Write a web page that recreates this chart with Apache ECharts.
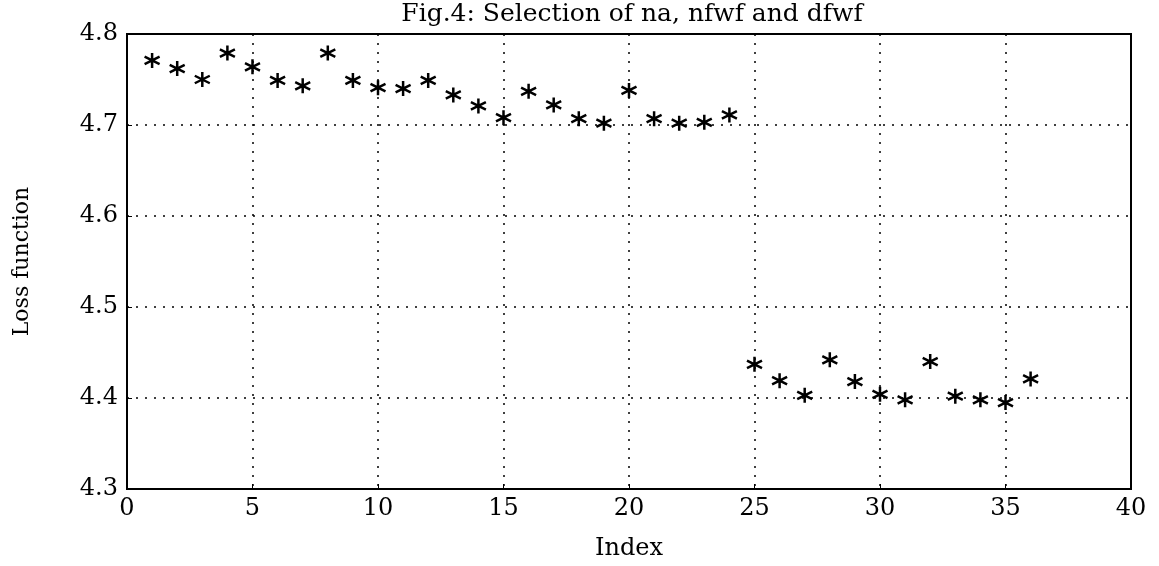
<!DOCTYPE html>
<html>
<head>
<meta charset="utf-8">
<script src="https://cdn.jsdelivr.net/npm/echarts@6/dist/echarts.min.js"></script>
<style>
  html, body { margin: 0; padding: 0; background: #fff; }
  #fig4 { width: 1159px; height: 566px; }
</style>
</head>
<body>
<div id="fig4"></div>
<script>
// index of the model structure
var index = [1, 2, 3, 4, 5, 6, 7, 8, 9, 10, 11, 12, 13, 14, 15, 16, 17, 18,
  19, 20, 21, 22, 23, 24, 25, 26, 27, 28, 29, 30, 31, 32, 33, 34, 35, 36];
// loss function
var loss = [4.771, 4.762, 4.750, 4.779, 4.764, 4.749, 4.743, 4.779, 4.749, 4.741,
  4.740, 4.749, 4.733, 4.721, 4.708, 4.737, 4.722, 4.707, 4.702, 4.738,
  4.707, 4.702, 4.703, 4.711, 4.437, 4.419, 4.403, 4.442, 4.418, 4.404,
  4.398, 4.440, 4.402, 4.398, 4.395, 4.421];

var xTicks = [0, 5, 10, 15, 20, 25, 30, 35, 40];
var yTicks = [4.3, 4.4, 4.5, 4.6, 4.7, 4.8];

var points = [];
for (var i = 0; i < index.length; i++) {
  points.push([index[i], loss[i]]);
}

var font = "DejaVu Serif";
var chartDom = document.getElementById("fig4");
var myChart = echarts.init(chartDom);

// asterisk marker (vertical + diagonals)
var star = "path://M0,-10L0,10M-8.66,-5L8.66,5M-8.66,5L8.66,-5";

var dotted = { color: "#000", width: 1.5, type: [2, 7] };

var option = {
  animation: false,
  backgroundColor: "#fff",
  title: {
    text: "Fig.4: Selection of na, nfwf and dfwf",
    left: 627,
    textAlign: "center",
    top: -3,
    textStyle: { fontFamily: font, fontSize: 25, fontWeight: "normal", color: "#000" },
  },
  grid: {
    left: 127,
    right: 28,
    top: 34,
    bottom: 77,
    show: true,
    borderColor: "#000",
    borderWidth: 2,
  },
  xAxis: {
    type: "value",
    min: xTicks[0],
    max: xTicks[xTicks.length - 1],
    interval: 5,
    name: "Index",
    nameLocation: "middle",
    nameGap: 48,
    nameTextStyle: { fontFamily: font, fontSize: 24, color: "#000" },
    axisLine: { lineStyle: { color: "#000", width: 2 } },
    axisTick: { inside: true, length: 5, lineStyle: { color: "#000" } },
    axisLabel: { fontFamily: font, fontSize: 24, color: "#000", margin: 8 },
    splitLine: { show: true, lineStyle: dotted },
  },
  yAxis: {
    type: "value",
    min: yTicks[0],
    max: yTicks[yTicks.length - 1],
    interval: 0.1,
    name: "Loss function",
    nameLocation: "middle",
    nameGap: 94,
    nameTextStyle: { fontFamily: font, fontSize: 22, color: "#000" },
    axisLine: { show: true, lineStyle: { color: "#000", width: 2 } },
    axisTick: { show: true, inside: true, length: 5, lineStyle: { color: "#000" } },
    axisLabel: {
      fontFamily: font,
      fontSize: 24,
      color: "#000",
      margin: 9,
      formatter: function (v) {
        return v.toFixed(1);
      },
    },
    splitLine: { show: true, lineStyle: dotted },
  },
  series: [
    {
      name: "loss",
      type: "scatter",
      symbol: star,
      symbolSize: 15,
      itemStyle: { color: "#000", borderColor: "#000", borderWidth: 2.5, opacity: 1 },
      data: points,
    },
  ],
};

option && myChart.setOption(option);
</script>
</body>
</html>
